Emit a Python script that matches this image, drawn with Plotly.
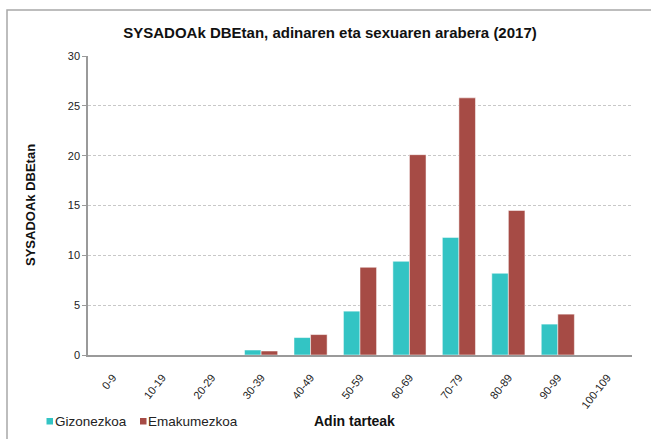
import plotly.graph_objects as go

categories = ["0-9", "10-19", "20-29", "30-39", "40-49", "50-59", "60-69",
              "70-79", "80-89", "90-99", "100-109"]
gizonezkoa = [0, 0, 0, 0.5, 1.75, 4.4, 9.4, 11.8, 8.2, 3.1, 0]
emakumezkoa = [0, 0, 0, 0.4, 2.05, 8.8, 20.1, 25.8, 14.5, 4.1, 0]
series_names = ["Gizonezkoa", "Emakumezkoa"]

title_text = "SYSADOAk DBEtan, adinaren eta sexuaren arabera (2017)"
y_title = "SYSADOAk DBEtan"
x_title = "Adin tarteak"

cyan = "#33C4C4"
red = "#A64B45"
font_family = "Liberation Sans, Arial, sans-serif"

# plot area in pixels
L, R, T, B = 88, 632, 56, 355
W, H = R - L, B - T


def px_x(p):
    return (p - L) / W


def px_y(p):
    return (B - p) / H


fig = go.Figure()
fig.add_trace(go.Bar(x=categories, y=gizonezkoa, name=series_names[0],
                     marker=dict(color=cyan, line=dict(color="rgba(255,255,255,0.5)", width=1))))
fig.add_trace(go.Bar(x=categories, y=emakumezkoa, name=series_names[1],
                     marker=dict(color=red, line=dict(color="rgba(255,255,255,0.5)", width=1))))

fig.update_layout(
    width=651, height=439,
    margin=dict(l=L, r=651 - R, t=T, b=439 - B, autoexpand=False),
    paper_bgcolor="white", plot_bgcolor="white",
    font=dict(family=font_family, size=11, color="#222222"),
    barmode="group", bargap=0.33, bargroupgap=0,
    title=dict(text="<b>" + title_text + "</b>", x=330 / 651, xanchor="center",
               y=1 - 33 / 439, yanchor="middle",
               font=dict(size=15, color="#111111", family=font_family)),
    showlegend=False,
    xaxis=dict(tickangle=-52, showline=True, linecolor="#9A9A9A", linewidth=1.5,
               ticks="", showgrid=False, ticklabelstandoff=10,
               tickfont=dict(size=11, color="#222222")),
    yaxis=dict(range=[0, 30], dtick=5, showline=True, linecolor="#9A9A9A", linewidth=1.5,
               ticks="outside", ticklen=4, tickcolor="#9A9A9A",
               showgrid=True, gridcolor="#C8C8C8", griddash="3px,2px", gridwidth=1,
               zeroline=False, tickfont=dict(size=11, color="#222222")),
)

fig.add_annotation(text="<b>" + y_title + "</b>", textangle=-90, xref="paper", yref="paper",
                   x=px_x(30), y=px_y(205), xanchor="center", yanchor="middle",
                   showarrow=False, font=dict(size=13, color="#111111"))
fig.add_annotation(text="<b>" + x_title + "</b>", xref="paper", yref="paper",
                   x=px_x(312), y=px_y(421), xanchor="left", yanchor="middle",
                   showarrow=False, font=dict(size=14, color="#111111"))

# legend (squares + labels)
legend_items = [(series_names[0], cyan, 46.5), (series_names[1], red, 140)]
for name, col, sx in legend_items:
    fig.add_shape(type="rect", xref="paper", yref="paper",
                  x0=px_x(sx), x1=px_x(sx + 6.5), y0=px_y(424.5), y1=px_y(418),
                  fillcolor=col, line=dict(width=0))
    fig.add_annotation(text=name, xref="paper", yref="paper",
                       x=px_x(sx + 7), y=px_y(421.5), xanchor="left", yanchor="middle",
                       showarrow=False, font=dict(size=13.5, color="#222222"),
                       borderpad=0)

fig.add_shape(type="rect", xref="paper", yref="paper",
              x0=px_x(7), x1=1.2, y0=-0.5, y1=px_y(10),
              line=dict(color="#A8A8A8", width=1.5), layer="below")

fig.write_html("out.html", config={"displayModeBar": False},
               post_script="document.body.style.margin='0';document.body.style.overflow='hidden';")
